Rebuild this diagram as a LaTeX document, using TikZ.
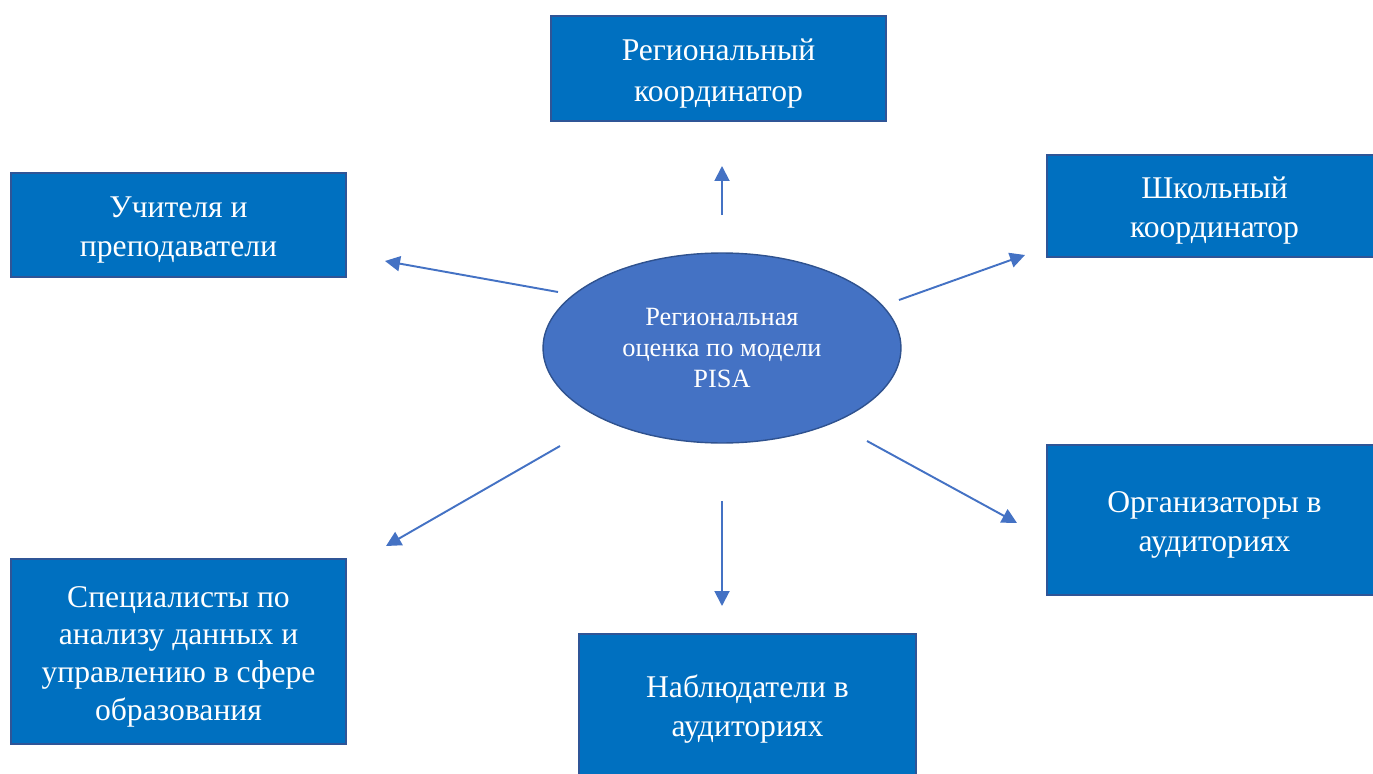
\documentclass[tikz,border=0pt]{standalone}
\usepackage{fontspec}
\setmainfont{Liberation Serif}
\usetikzlibrary{shapes,arrows.meta}

\definecolor{boxblue}{HTML}{0070C0}
\definecolor{edgeblue}{HTML}{2F5597}
\definecolor{ellblue}{HTML}{4472C4}
\definecolor{ellline}{HTML}{2F528F}

\begin{document}
\begin{tikzpicture}[x=0.02cm,y=-0.02cm]
\tikzstyle{box}=[rectangle,draw=edgeblue,line width=0.8pt,fill=boxblue,text=white,minimum width=6.7cm,align=center,inner sep=0pt,text height=40.2pt,font=\fontsize{18}{22.3}\selectfont]
\tikzstyle{arr}=[draw=ellblue,line width=1.1pt,-{Triangle[length=0.3cm,width=0.3cm]}]
\useasboundingbox (0,0) rectangle (1373,774);
\clip (0,0) rectangle (1373,774);
% centre
\node[ellipse,draw=ellline,line width=0.8pt,fill=ellblue,minimum width=7.16cm,minimum height=3.8cm,inner sep=0pt,text=white,align=center,font=\fontsize{15}{17.6}\selectfont] (pisa) at (722,348) {Региональная\\оценка по модели\\PISA};
% boxes
\node[box,minimum height=2.1cm,font=\fontsize{18}{23.5}\selectfont,text height=41.4pt] (regcoord) at (718.5,68.5) {Региональный\\координатор};
\node[box,minimum height=2.08cm] (teachers) at (178.5,225) {Учителя и\\преподаватели};
\node[box,minimum height=2.04cm] (schoolcoord) at (1214.5,206) {Школьный\\координатор};
\node[box,minimum height=3cm] (organizers) at (1214.5,520) {Организаторы в\\аудиториях};
\node[box,minimum height=2.84cm,minimum width=6.74cm] (observers) at (747.5,705) {Наблюдатели в\\аудиториях};
\node[box,minimum height=3.7cm,font=\fontsize{18}{21.5}\selectfont,text height=82.4pt] (specialists) at (178.5,651.5) {Специалисты по\\анализу данных и\\управлению в сфере\\образования};
% arrow ends
\coordinate (upS) at (722,215);   \coordinate (upE) at (722,166);
\coordinate (luS) at (558,292);   \coordinate (luE) at (385,261);
\coordinate (ruS) at (899,300);   \coordinate (ruE) at (1025,255);
\coordinate (ldS) at (560,446);   \coordinate (ldE) at (386,546);
\coordinate (dnS) at (722,501);   \coordinate (dnE) at (722,606);
\coordinate (rdS) at (867,441);   \coordinate (rdE) at (1017,523);
\draw[arr] (upS) -- (upE);
\draw[arr] (luS) -- (luE);
\draw[arr] (ruS) -- (ruE);
\draw[arr] (ldS) -- (ldE);
\draw[arr] (dnS) -- (dnE);
\draw[arr] (rdS) -- (rdE);
\end{tikzpicture}
\end{document}
